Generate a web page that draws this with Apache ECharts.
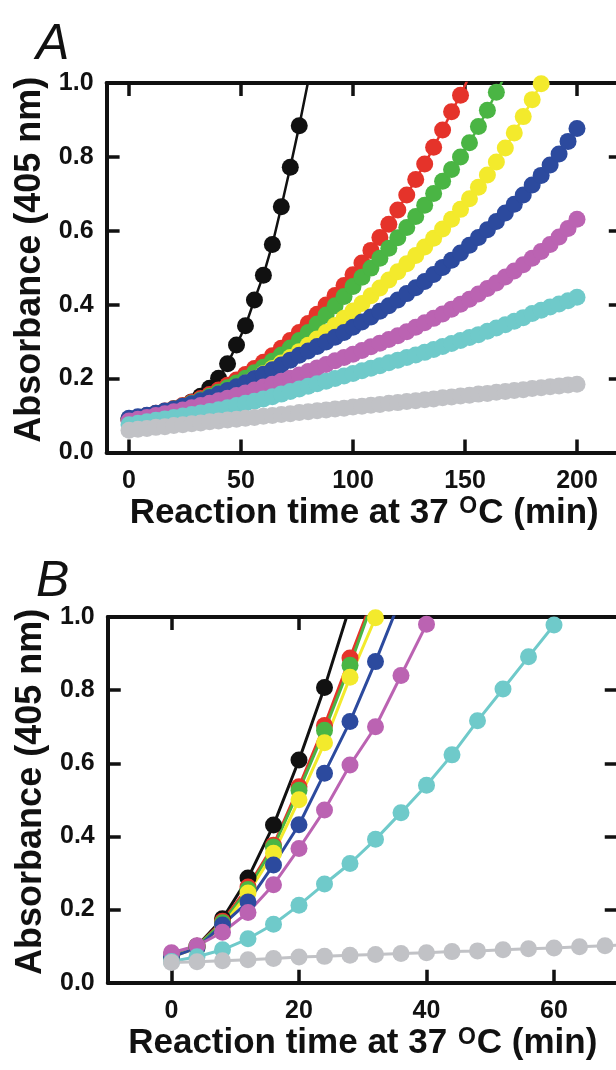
<!DOCTYPE html>
<html><head><meta charset="utf-8">
<script src="https://cdn.jsdelivr.net/npm/echarts@6.0.0/dist/echarts.min.js"></script>
<style>html,body{margin:0;padding:0;background:#fff}#c{width:616px;height:1070px}</style>
</head><body><div id="c"></div>
<script>
// ---------- Panel A data (sampled every 4 min) ----------
const timeA = [0,4,8,12,16,20,24,28,32,36,40,44,48,52,56,60,64,68,72,76,80,84,88,92,96,100,104,108,112,116,120,124,128,132,136,140,144,148,152,156,160,164,168,172,176,180,184,188,192,196,200];
const blackA = [0.090,0.094,0.098,0.103,0.109,0.116,0.125,0.137,0.152,0.174,0.201,0.240,0.291,0.343,0.413,0.480,0.563,0.665,0.772,0.884,1.005];
const redA = [0.090,0.095,0.100,0.106,0.112,0.119,0.127,0.136,0.146,0.157,0.169,0.182,0.196,0.211,0.227,0.244,0.262,0.282,0.303,0.325,0.349,0.374,0.399,0.425,0.452,0.481,0.513,0.547,0.582,0.618,0.656,0.697,0.739,0.781,0.826,0.873,0.922,0.967,1.020];
const greenA = [0.090,0.094,0.099,0.105,0.111,0.118,0.125,0.133,0.142,0.152,0.163,0.175,0.188,0.201,0.216,0.231,0.247,0.264,0.283,0.303,0.325,0.348,0.372,0.397,0.422,0.449,0.474,0.499,0.526,0.553,0.581,0.609,0.639,0.669,0.701,0.734,0.766,0.800,0.838,0.882,0.926,0.975,1.020];
const yellowA = [0.090,0.094,0.098,0.103,0.109,0.115,0.122,0.129,0.137,0.146,0.155,0.165,0.176,0.188,0.200,0.213,0.227,0.242,0.257,0.273,0.290,0.307,0.325,0.344,0.363,0.383,0.403,0.424,0.445,0.467,0.489,0.511,0.533,0.556,0.580,0.605,0.631,0.658,0.687,0.718,0.751,0.786,0.824,0.865,0.909,0.955,0.998];
const blueA = [0.093,0.097,0.101,0.106,0.112,0.118,0.125,0.132,0.140,0.149,0.158,0.168,0.178,0.189,0.200,0.212,0.224,0.237,0.250,0.263,0.275,0.287,0.299,0.312,0.325,0.339,0.353,0.367,0.382,0.397,0.413,0.430,0.446,0.463,0.482,0.501,0.520,0.540,0.561,0.582,0.603,0.625,0.648,0.672,0.697,0.724,0.750,0.778,0.808,0.842,0.877];
const magentaA = [0.085,0.090,0.095,0.100,0.105,0.110,0.115,0.121,0.127,0.133,0.140,0.147,0.154,0.161,0.169,0.177,0.185,0.193,0.201,0.210,0.219,0.229,0.238,0.248,0.257,0.266,0.276,0.286,0.296,0.306,0.316,0.327,0.339,0.351,0.363,0.375,0.388,0.401,0.415,0.429,0.444,0.459,0.475,0.491,0.508,0.526,0.544,0.563,0.583,0.606,0.631];
const cyanA = [0.075,0.079,0.083,0.087,0.091,0.095,0.099,0.103,0.107,0.111,0.116,0.121,0.127,0.133,0.139,0.145,0.151,0.158,0.165,0.172,0.179,0.186,0.193,0.200,0.207,0.214,0.221,0.228,0.235,0.243,0.250,0.257,0.264,0.271,0.279,0.287,0.295,0.303,0.311,0.319,0.328,0.337,0.346,0.355,0.365,0.376,0.385,0.394,0.402,0.411,0.420];
const grayA = [0.060,0.063,0.065,0.068,0.070,0.073,0.075,0.078,0.080,0.083,0.085,0.088,0.090,0.093,0.095,0.098,0.100,0.103,0.105,0.108,0.110,0.113,0.115,0.118,0.120,0.123,0.125,0.128,0.130,0.133,0.135,0.138,0.140,0.143,0.145,0.148,0.150,0.153,0.155,0.158,0.160,0.163,0.165,0.168,0.170,0.173,0.175,0.178,0.180,0.183,0.185];

// ---------- Panel B data (sampled every 4 min) ----------
const timeB = [0,4,8,12,16,20,24,28,32,36,40,44,48,52,56,60,64,68,72];
const blackB = [0.075,0.100,0.175,0.286,0.431,0.609,0.807,1.030];
const redB = [0.075,0.100,0.168,0.262,0.376,0.536,0.703,0.888,1.070];
const greenB = [0.075,0.100,0.164,0.255,0.371,0.526,0.690,0.868,1.064];
const yellowB = [0.070,0.095,0.155,0.245,0.354,0.500,0.656,0.835,0.998];
const blueB = [0.070,0.095,0.158,0.221,0.322,0.432,0.573,0.714,0.878,1.052];
const magentaB = [0.082,0.101,0.138,0.192,0.268,0.367,0.472,0.595,0.700,0.840,0.980];
const cyanB = [0.058,0.071,0.090,0.120,0.160,0.212,0.270,0.326,0.392,0.465,0.540,0.623,0.716,0.803,0.891,0.978];
const grayB = [0.055,0.057,0.060,0.063,0.066,0.070,0.072,0.075,0.077,0.080,0.082,0.085,0.087,0.090,0.093,0.095,0.098,0.101,0.104];

// ---------- ticks & labels ----------
const xTicksA = [0,50,100,150,200];
const xTicksB = [0,20,40,60];
const xTitle = 'Reaction time at 37 {sup|O}C (min)';
const yTitle = 'Absorbance (405 nm)';
const panelLabels = ['A','B'];

const colors = {black:'#111111', red:'#e5332a', green:'#4ab544', yellow:'#f3ea2c', blue:'#2c4a9e', magenta:'#bb63b2', cyan:'#6fcaca', gray:'#c1c2c6'};

const FONT = '"Liberation Sans", Arial, Helvetica, sans-serif';
const AX = '#111';

function xAx(gridIndex, min, max, ticks, pos, showLabel) {
  return {
    type:'value', gridIndex, min, max, position: pos,
    axisLine:{show:true, onZero:false, lineStyle:{color:AX, width:4}},
    axisTick:{show:true, inside:true, length:13, customValues: ticks, lineStyle:{color:AX, width:3.5}},
    axisLabel:{show:showLabel, customValues: ticks, margin:16, fontFamily:FONT, fontWeight:'bold', fontSize:25, color:AX},
    splitLine:{show:false},
    name: showLabel ? xTitle : '', nameLocation:'middle', nameGap:43,
    nameTextStyle:{fontFamily:FONT, fontWeight:'bold', fontSize:35, color:AX,
      rich:{sup:{fontFamily:FONT, fontWeight:'bold', fontSize:23, color:AX, verticalAlign:'top', padding:[0,1,0,1]}}}
  };
}
function yAx(gridIndex, pos, showLabel) {
  return {
    type:'value', gridIndex, min:0, max:1, interval:0.2, position: pos,
    axisLine:{show:true, onZero:false, lineStyle:{color:AX, width:4}},
    axisTick:{show:true, inside:true, length:13, lineStyle:{color:AX, width:3.5}},
    axisLabel:{show:showLabel, margin:13, fontFamily:FONT, fontWeight:'bold', fontSize:25, color:AX,
      formatter: v => v.toFixed(1)},
    splitLine:{show:false},
    name: showLabel ? yTitle : '', nameLocation:'middle', nameGap:57,
    nameTextStyle:{fontFamily:FONT, fontWeight:'bold', fontSize:36, color:AX, padding:[0,0,0,16]}
  };
}
function mk(times, vals, color, axisIdx, size, lw) {
  return {
    type:'line', xAxisIndex: axisIdx, yAxisIndex: axisIdx,
    data: vals.map((v,i) => [times[i], v]),
    symbol:'circle', symbolSize:size, showAllSymbol:true, clip:true,
    lineStyle:{color, width:lw}, itemStyle:{color},
    silent:true, animation:false, emphasis:{disabled:true}
  };
}

const seriesA = [[blackA,'black'],[redA,'red'],[greenA,'green'],[yellowA,'yellow'],[blueA,'blue'],[magentaA,'magenta'],[cyanA,'cyan'],[grayA,'gray']];
const seriesB = [[blackB,'black'],[redB,'red'],[greenB,'green'],[yellowB,'yellow'],[blueB,'blue'],[magentaB,'magenta'],[cyanB,'cyan'],[grayB,'gray']];

const chart = echarts.init(document.getElementById('c'), null, {renderer:'canvas'});
chart.setOption({
  animation:false,
  backgroundColor:'#fff',
  grid:[
    {left:106.6, top:83, width:515.2, height:369.5, outerBoundsMode:'none', containLabel:false},
    {left:107.75, top:617, width:510, height:365.7, outerBoundsMode:'none', containLabel:false}
  ],
  xAxis:[
    xAx(0,-10,220,xTicksA,'bottom',true),
    xAx(0,-10,220,xTicksA,'top',false),
    xAx(1,-10,70,xTicksB,'bottom',true),
    xAx(1,-10,70,xTicksB,'top',false)
  ],
  yAxis:[
    yAx(0,'left',true), yAx(0,'right',false),
    yAx(1,'left',true), yAx(1,'right',false)
  ],
  graphic:[
    {type:'text', left:36, top:20, style:{text:panelLabels[0], font:'italic 50px '+FONT, fill:'#111'}},
    {type:'text', left:36, top:557, style:{text:panelLabels[1], font:'italic 50px '+FONT, fill:'#111'}}
  ],
  series: [
    ...seriesA.map(s => mk(timeA, s[0], colors[s[1]], 0, 17, 2.5)),
    ...seriesB.map(s => mk(timeB, s[0], colors[s[1]], 2, 17, 3))
  ]
});
</script>
</body></html>
